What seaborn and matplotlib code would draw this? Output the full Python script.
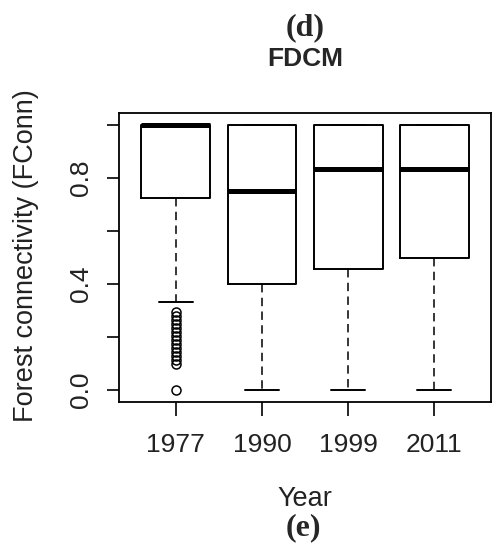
import matplotlib
matplotlib.use("Agg")
import matplotlib.pyplot as plt
import seaborn as sns

# Forest connectivity (FConn) summary per survey year, FDCM model
years = ["1977", "1990", "1999", "2011"]
lower_whisker = [0.333, 0.0, 0.0, 0.0]
q1 = [0.725, 0.40, 0.455, 0.50]
median = [1.0, 0.75, 0.833, 0.833]
q3 = [1.0, 1.0, 1.0, 1.0]
upper_whisker = [1.0, 1.0, 1.0, 1.0]
outliers_1977 = [0.0, 0.10, 0.115, 0.13, 0.145, 0.16, 0.175, 0.19, 0.205,
                 0.22, 0.235, 0.25, 0.265, 0.28, 0.295]
outliers = [outliers_1977, [], [], []]

y_ticks = [0.0, 0.2, 0.4, 0.6, 0.8, 1.0]
y_tick_labels = ["0.0", "", "0.4", "", "0.8", ""]

sns.set_theme(style="white")
plt.rcParams["font.family"] = ["Liberation Sans", "DejaVu Sans"]

fig = plt.figure(figsize=(4.99, 5.5), dpi=100)
ax = fig.add_axes([0.2385, 0.269, 0.7455, 0.5255])

stats = []
for i, yr in enumerate(years):
    stats.append(dict(label=yr, whislo=lower_whisker[i], q1=q1[i], med=median[i],
                      q3=q3[i], whishi=upper_whisker[i], fliers=outliers[i]))

ax.bxp(stats, positions=range(1, len(years) + 1), widths=0.8, capwidths=0.4,
       patch_artist=False, showfliers=True,
       boxprops=dict(color="black", linewidth=1.4),
       medianprops=dict(color="black", linewidth=3.6, solid_capstyle="butt"),
       whiskerprops=dict(color="black", linewidth=1.1, linestyle=(0, (5.5, 3.5))),
       capprops=dict(color="black", linewidth=1.4),
       flierprops=dict(marker="o", markerfacecolor="none", markeredgecolor="black",
                       markersize=6.5, markeredgewidth=1.1, linestyle="none"))

ax.set_xlim(0.34, 4.66)
ax.set_ylim(-0.045, 1.045)
ax.set_xticks(range(1, len(years) + 1))
ax.set_xticklabels(years, fontsize=19, color="#222222")
ax.set_yticks(y_ticks)
ax.set_yticklabels(y_tick_labels, fontsize=19, rotation=90, va="center",
                   color="#222222")
ax.tick_params(axis="x", bottom=True, direction="out", length=10, width=1.2,
               pad=12, color="black")
ax.tick_params(axis="y", left=True, direction="out", length=9, width=1.2,
               pad=10, color="black")
for s in ax.spines.values():
    s.set_color("black")
    s.set_linewidth(1.3)
ax.set_xlabel("")
ax.set_ylabel("")
ax.grid(False)

fig.text(0.611, 0.950, "(d)", ha="center", va="center", fontsize=23,
         fontweight="bold", family=["Liberation Serif", "DejaVu Serif"])
fig.text(0.611, 0.892, "FDCM", ha="center", va="center", fontsize=19,
         fontweight="bold")
fig.text(0.052, 0.535, "Forest connectivity (FConn)", ha="center", va="center",
         rotation=90, fontsize=19.5, color="#222222")
fig.text(0.611, 0.093, "Year", ha="center", va="center", fontsize=19.5,
         color="#222222")
fig.text(0.607, 0.040, "(e)", ha="center", va="center", fontsize=23,
         fontweight="bold", family=["Liberation Serif", "DejaVu Serif"])

fig.savefig("out.png", dpi=100, facecolor="white")
